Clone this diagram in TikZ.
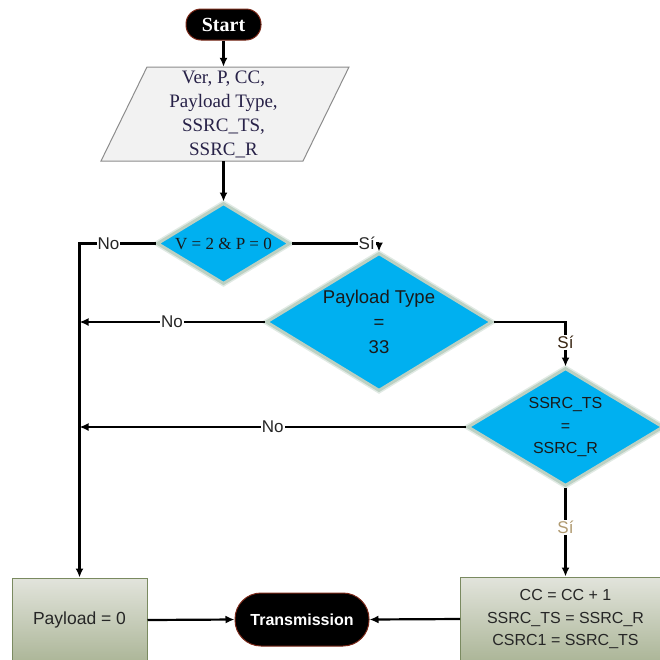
\documentclass[tikz,border=0pt]{standalone}
\usepackage{fontspec}
\setmainfont{Liberation Serif}
\setsansfont{Liberation Sans}
\usetikzlibrary{shapes.geometric,arrows.meta}
\def\fsize#1#2{\fontsize{#1}{#2}\selectfont}

\definecolor{dcyan}{RGB}{0,176,240}
\definecolor{glow}{RGB}{188,208,194}
\definecolor{termred}{RGB}{122,40,24}
\definecolor{parafill}{RGB}{242,242,242}
\definecolor{paradraw}{RGB}{140,140,140}
\definecolor{paratext}{RGB}{40,34,72}
\definecolor{boxtop}{RGB}{226,228,220}
\definecolor{boxbot}{RGB}{172,182,152}
\definecolor{boxdraw}{RGB}{122,138,96}
\definecolor{sitan}{RGB}{176,154,112}

\tikzset{
	arr/.style={line width=2.2pt, -{Latex[length=9pt,width=8pt]}},
	term/.style={rectangle, fill=black, draw=termred, line width=1pt, text=white},
	decision/.style={diamond, fill=dcyan, draw=glow, line width=3pt, preaction={draw=glow!45, line width=6pt}, inner sep=0pt, align=center, text=black!90},
	procbox/.style={rectangle, draw=boxdraw, line width=1pt, top color=boxtop, bottom color=boxbot, align=center, text=black!85},
	lbl/.style={fill=white, inner sep=1pt, text=black!85, font=\sffamily\fsize{17}{20}}
}

\begin{document}
\begin{tikzpicture}[x=1pt, y=-1pt]
		%%%%% START %%%%%
		\useasboundingbox (0,0) rectangle (660,659);
		\clip (0,0) rectangle (660,659);
		
		\node[term, minimum width=75pt, minimum height=31pt, rounded corners=15pt, font=\bfseries\fsize{20}{24}] (start) at (223.5,24.5) {Start};
		
		% input data
		\filldraw[fill=parafill, draw=paradraw, line width=1pt] (147,67) -- (349,67) -- (303,161) -- (101,161) -- cycle;
		\node[minimum height=94pt, inner sep=0pt, align=center, text=paratext, font=\fsize{19}{24}] (params) at (223.5,114) {Ver, P, CC,\\Payload Type,\\SSRC\_TS,\\SSRC\_R};
		
		% checks
		\node[decision, minimum width=133pt, minimum height=81pt, aspect=1.64, font=\fsize{17}{20}] (d1) at (223.5,243.5) {V = 2 \& P = 0};
		\node[decision, minimum width=226pt, minimum height=138pt, aspect=1.64, font=\sffamily\fsize{18.5}{25}] (d2) at (379,322) {Payload Type\\=\\33};
		\node[decision, minimum width=196pt, minimum height=118pt, aspect=1.66, font=\sffamily\fsize{16}{22.5}] (d3) at (565.5,427) {SSRC\_TS\\=\\SSRC\_R};
		
		% bottom row
		\node[procbox, minimum width=135pt, minimum height=84pt, font=\sffamily\fsize{17.5}{21}] (payload) at (79.5,620) {Payload = 0};
		\node[term, minimum width=134pt, minimum height=53pt, rounded corners=26pt, font=\sffamily\bfseries\fsize{16}{19}] (trans) at (302,619.5) {Transmission};
		\node[procbox, minimum width=210pt, minimum height=84pt, font=\sffamily\fsize{16}{22.5}] (update) at (565.5,619) {CC = CC + 1\\SSRC\_TS = SSRC\_R\\CSRC1 = SSRC\_TS};
		
		\draw[arr] (start.south) -- (params.north);
		\draw[arr] (params.south) -- (d1.north);
		
		\draw[arr] (d1.west) -| node[lbl, pos=0.31] {No} (payload.north);
		\draw[arr] (d1.east) -| node[lbl, pos=0.43] {Sí} (d2.north);
		\draw[arr] (d2.west) -- node[lbl] {No} (d2.west -| payload.north);
		\draw[arr] (d2.east) -| node[lbl, pos=0.73, text=black!70!brown] {Sí} (d3.north);
		\draw[arr] (d3.west) -- node[lbl] {No} (d3.west -| payload.north);
		\draw[arr] (d3.south) -- node[lbl, pos=0.45, text=sitan] {Sí} (update.north);
		
		\draw[arr] (payload.east) -- (trans.west);
		\draw[arr] (update.west) -- (trans.east);
		
		%%%%% END %%%%%
\end{tikzpicture}
\end{document}
